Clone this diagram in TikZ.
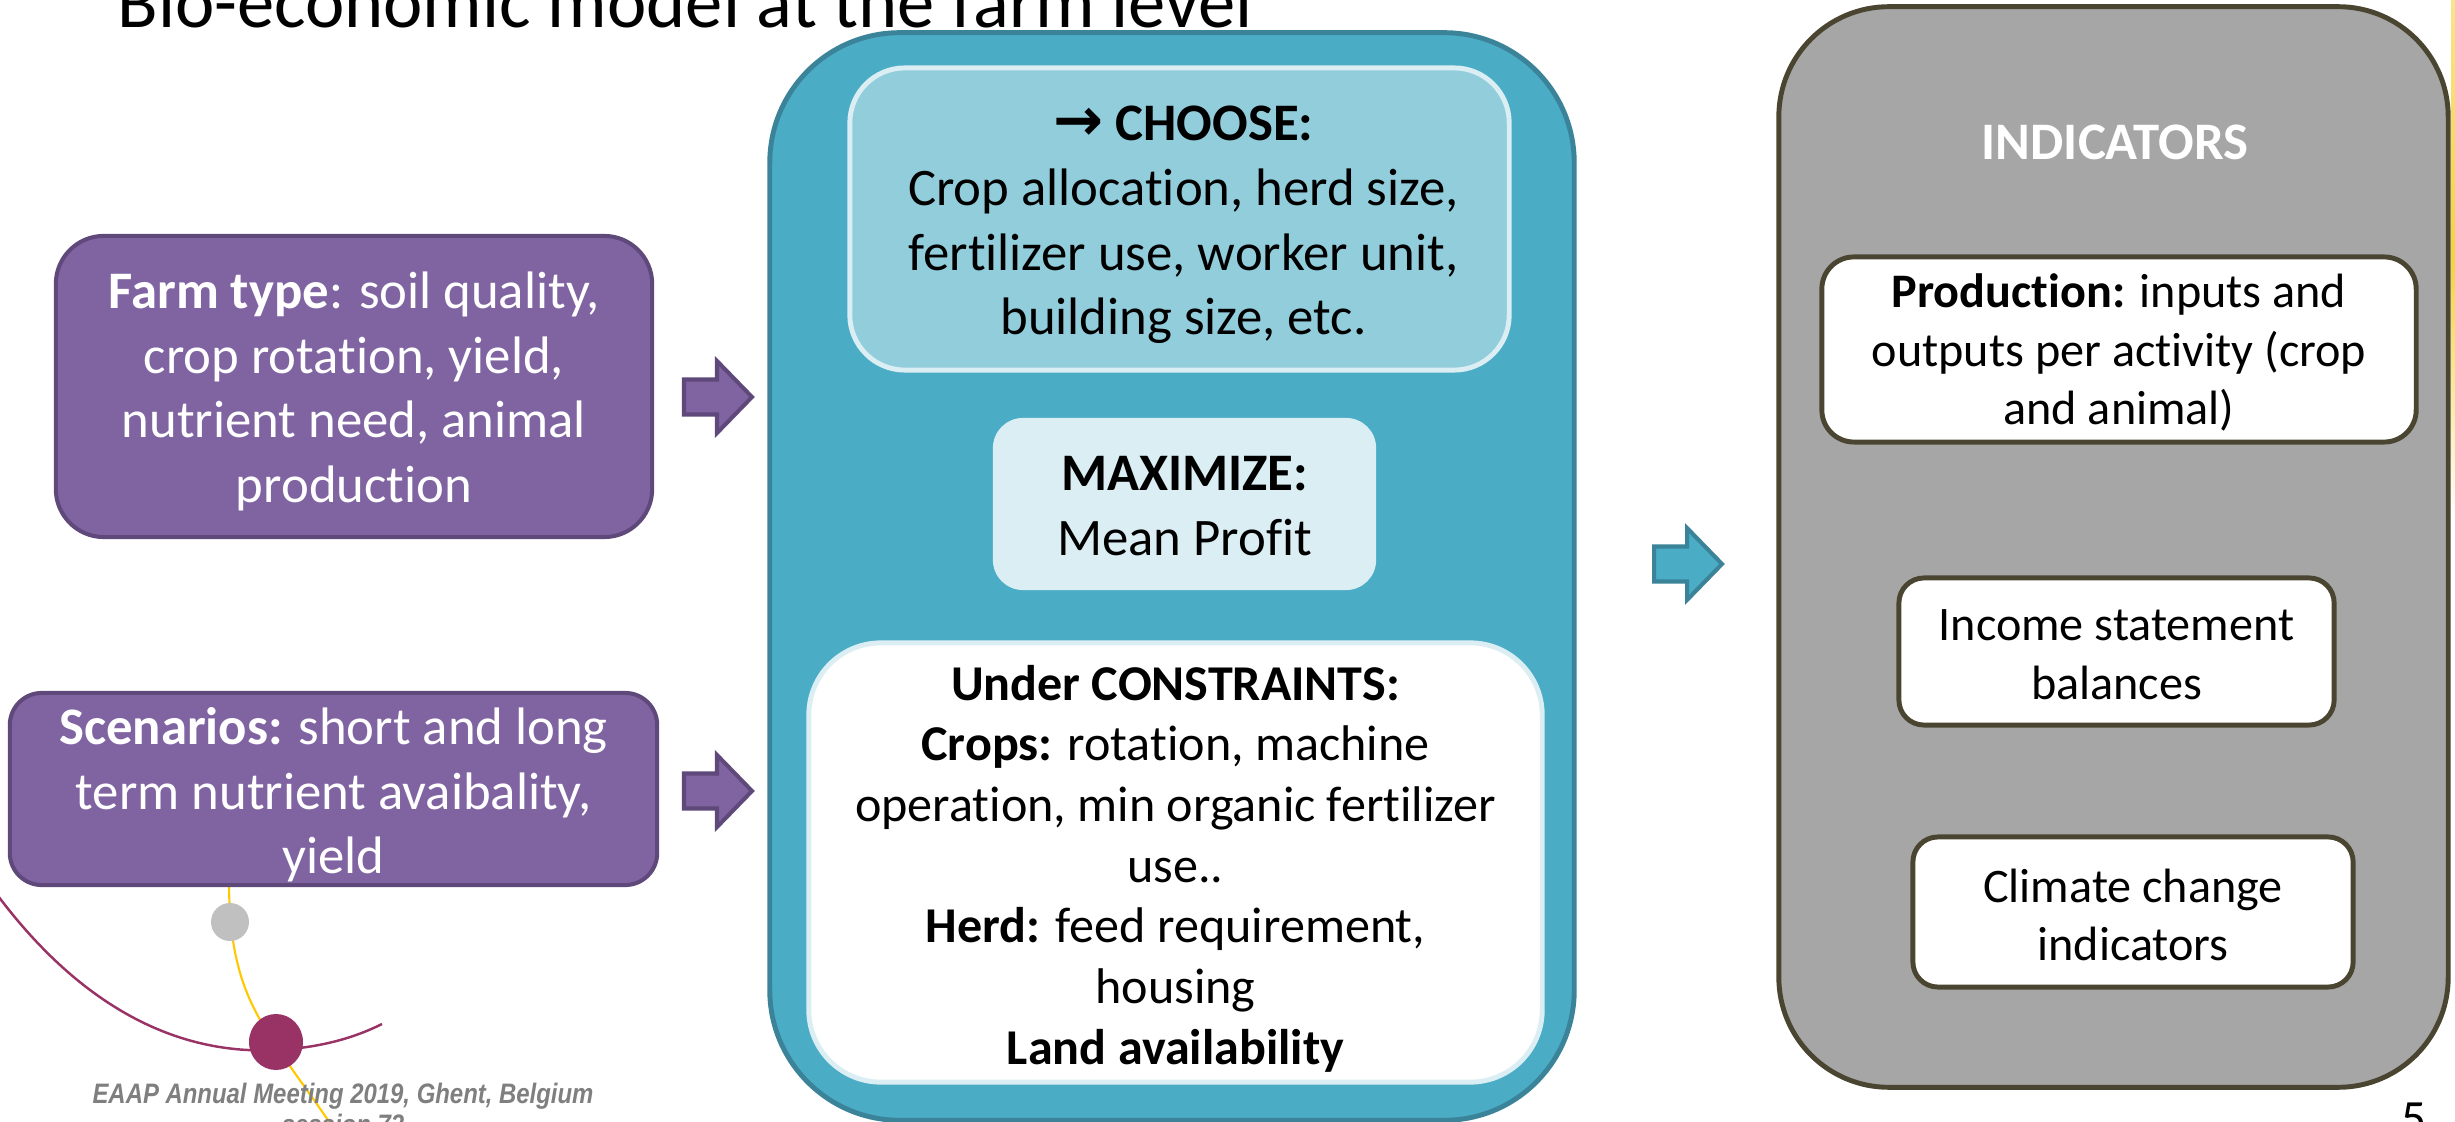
\documentclass[tikz,border=0pt]{standalone}
\usepackage{fontspec}
\setmainfont{Carlito}[Ligatures=NoCommon]
\newfontfamily\footfont[FakeStretch=0.85]{Liberation Sans}
\newfontfamily\arrowfont{DejaVu Sans}
\usetikzlibrary{calc}

% palette
\definecolor{tealfill}{HTML}{4BACC6}
\definecolor{tealedge}{HTML}{3A8399}
\definecolor{paleblue}{HTML}{92CDDC}
\definecolor{icyblue}{HTML}{DAEEF3}
\definecolor{violetfill}{HTML}{8064A2}
\definecolor{violetedge}{HTML}{5F497A}
\definecolor{stonefill}{HTML}{A6A6A6}
\definecolor{oliveedge}{HTML}{4A4530}
\definecolor{logomaroon}{HTML}{993366}
\definecolor{logogold}{HTML}{FFC800}
\definecolor{logogray}{HTML}{C0C0C0}
\definecolor{footgray}{HTML}{7F7F7F}
\definecolor{edgeyellow}{HTML}{F5D33A}

% type sizes (one unit = 0.01cm)
\newcommand\szTitle{\fontsize{21.2pt}{25pt}\selectfont}
\newcommand\szA{\fontsize{15.0pt}{18.4pt}\selectfont}
\newcommand\szB{\fontsize{14.25pt}{17.25pt}\selectfont}
\newcommand\szC{\fontsize{13.7pt}{16.7pt}\selectfont}
\newcommand\szFoot{\fontsize{8.0pt}{9.3pt}\selectfont}

% block arrow: left x, centre y
\newcommand\blockarrow[3]{%
  \draw[#1] (#2,#3-17.5) -- ++(33,0) -- ++(0,-18.5) -- ++(35,36)
    -- ++(-35,36) -- ++(0,-18.5) -- ++(-33,0) -- cycle;}

\begin{document}
\begin{tikzpicture}[x=0.01cm, y=-0.01cm,
  panel/.style={rectangle, inner sep=0pt},
  label/.style={inner sep=0pt, align=center},
  violetbox/.style={panel, fill=violetfill, draw=violetedge, line width=1.15pt},
  whitebox/.style={panel, fill=white, draw=oliveedge, line width=1.4pt},
  violetarrow/.style={fill=violetfill, draw=violetedge, line width=1.15pt},
  tealarrow/.style={fill=tealfill, draw=tealedge, line width=1.15pt},
]
\useasboundingbox (0,0) rectangle (2455,1122);
\clip (0,0) rectangle (2455,1122);
\fill[white] (0,0) rectangle (2455,1122);

% thin yellow glow on the right edge
\fill[top color=edgeyellow!60, bottom color=white, middle color=edgeyellow]
  (2451,0) rectangle (2455,520);

% heading
\node[anchor=base, font=\szTitle] (title) at (685,28)
  {Bio-economic model at the farm level};

% conference logo
\draw[logomaroon, line width=0.7pt] (-10,885) .. controls (80,1010) and (180,1055) .. (276,1050)
  .. controls (315,1048) and (350,1040) .. (382,1024);
\draw[logogold, line width=0.6pt] (229,880) .. controls (229,960) and (245,1000) .. (276,1045)
  .. controls (295,1075) and (315,1100) .. (338,1135);
\fill[logogray] (230,922) circle [radius=19];
\fill[logomaroon] (276,1042) ellipse [x radius=27, y radius=28];

% inputs
\node[violetbox, minimum width=5.96cm, minimum height=3.01cm, rounded corners=0.48cm]
  (farm) at (354,386.5) {};
\node[label, text=white, font=\szA] (farmtext) at ($(farm.center)+(0,5)$)
  {{\bfseries Farm type}: soil quality,\\crop rotation, yield,\\nutrient need, animal\\production};
\node[violetbox, minimum width=6.47cm, minimum height=1.92cm, rounded corners=0.32cm]
  (scen) at (333.5,789) {};
\node[label, text=white, font=\szA] (scentext) at ($(scen.center)+(0,6)$)
  {{\bfseries Scenarios:} short and long\\term nutrient avaibality,\\yield};

\blockarrow{violetarrow}{684}{397}
\blockarrow{violetarrow}{684}{791}

% optimisation model
\node[panel, fill=tealfill, draw=tealedge, line width=1.4pt,
  minimum width=8.04cm, minimum height=10.87cm, rounded corners=1.3cm]
  (model) at (1172,576.5) {};
\node[panel, fill=paleblue, draw=icyblue, line width=1.4pt,
  minimum width=6.59cm, minimum height=3.02cm, rounded corners=0.55cm]
  (choose) at (1179.5,219) {};
\node[label, font=\szA] (choosetext) at ($(choose.center)+(4,6)$)
  {{\bfseries{\arrowfont\bfseries\fontsize{17pt}{18pt}\selectfont →} CHOOSE:}\\Crop allocation, herd size,\\fertilizer use, worker unit,\\building size, etc.};
\node[panel, fill=icyblue,
  minimum width=3.83cm, minimum height=1.72cm, rounded corners=0.3cm]
  (maximize) at (1184.5,504) {};
\node[label, font=\szA] (maximizetext) at ($(maximize.center)+(0,2)$)
  {{\bfseries MAXIMIZE:}\\Mean Profit};
\node[panel, fill=white, draw=icyblue, line width=1.4pt,
  minimum width=7.33cm, minimum height=4.39cm, rounded corners=0.72cm]
  (constraints) at (1175.5,862.5) {};
\node[label, font=\szB] (constraintstext) at ($(constraints.center)+(0,6)$)
  {{\bfseries Under CONSTRAINTS:}\\{\bfseries Crops:} rotation, machine\\operation, min organic fertilizer\\use..\\{\bfseries Herd:} feed requirement,\\housing\\{\bfseries Land availability}};

\blockarrow{tealarrow}{1654}{564}

% outputs
\node[panel, fill=stonefill, draw=oliveedge, line width=1.4pt,
  minimum width=6.69cm, minimum height=10.80cm, rounded corners=1.1cm]
  (indicators) at (2113.5,547) {};
\node[font=\szA\bfseries, text=white, inner sep=0pt] (indtitle) at (2115,142) {INDICATORS};
\node[whitebox, minimum width=5.94cm, minimum height=1.85cm, rounded corners=0.32cm]
  (production) at (2119,349.5) {};
\node[label, font=\szC] (productiontext) at ($(production.center)+(0,3)$)
  {{\bfseries Production:} inputs and\\outputs per activity (crop\\and animal)};
\node[whitebox, minimum width=4.35cm, minimum height=1.47cm, rounded corners=0.25cm]
  (income) at (2116.5,651.5) {};
\node[label, font=\szC] (incometext) at ($(income.center)+(0,3)$) {Income statement\\balances};
\node[whitebox, minimum width=4.40cm, minimum height=1.50cm, rounded corners=0.25cm]
  (climate) at (2133,912) {};
\node[label, font=\szC] (climatetext) at ($(climate.center)+(0,3)$) {Climate change\\indicators};

% footer
\node[anchor=base, font=\szFoot\footfont\bfseries\itshape, text=footgray] (foot) at (343,1103)
  {EAAP Annual Meeting 2019, Ghent, Belgium};
\node[anchor=base, font=\szFoot\footfont\bfseries\itshape, text=footgray] (session) at (343,1134)
  {session 72};
\node[anchor=base, font=\fontsize{14pt}{17pt}\selectfont] (pageno) at (2414,1134) {5};
\end{tikzpicture}
\end{document}
